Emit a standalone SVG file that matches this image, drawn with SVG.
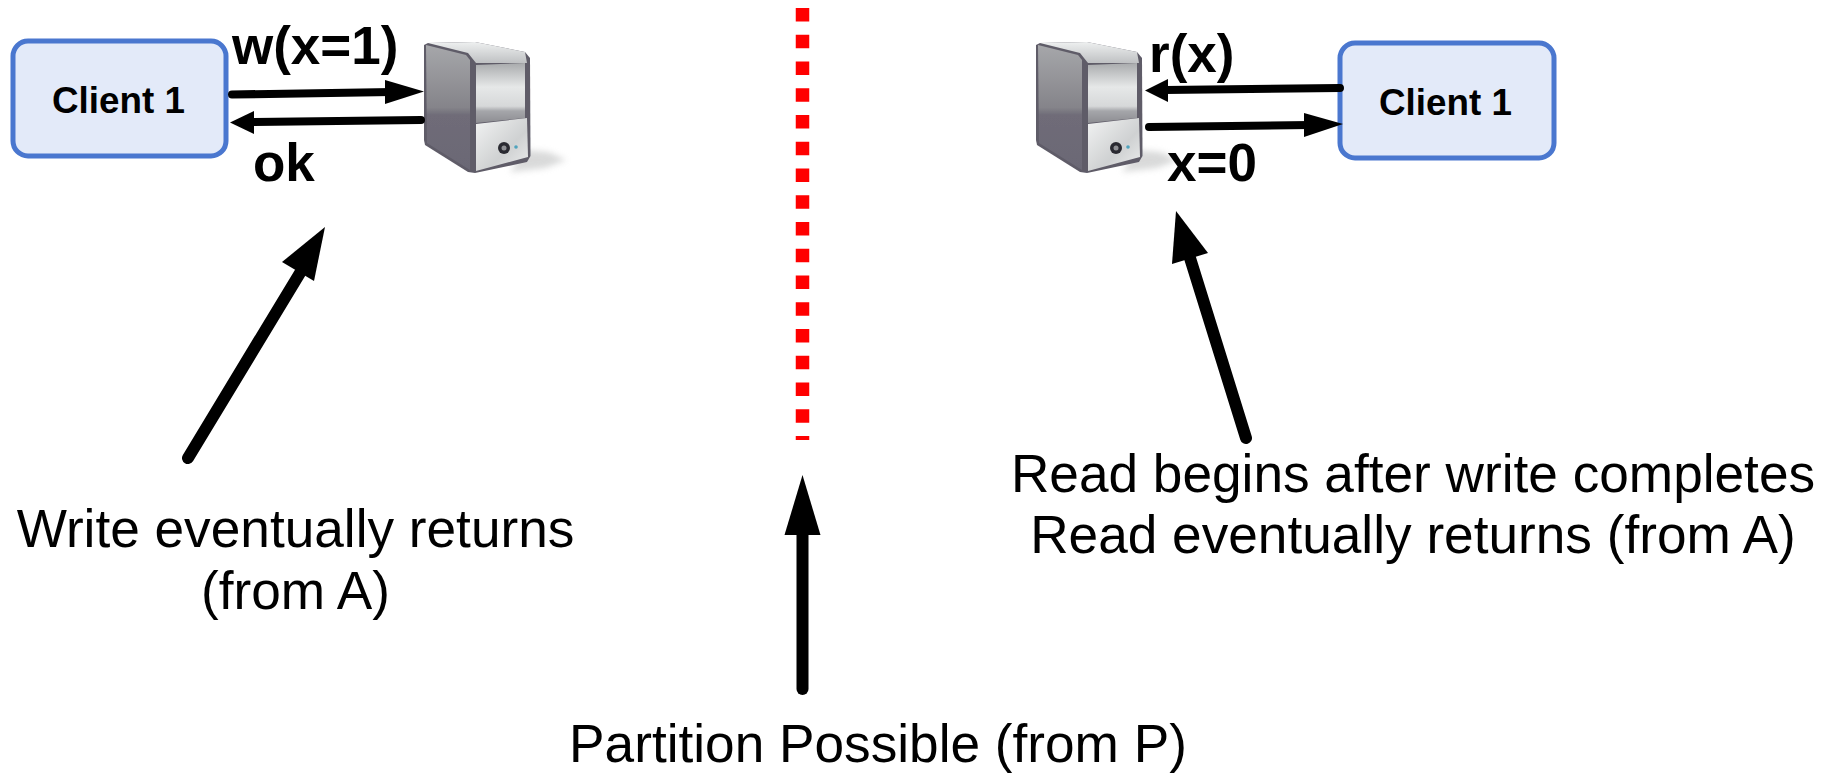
<svg xmlns="http://www.w3.org/2000/svg" width="1823" height="773" viewBox="0 0 1823 773">
<style>
.box{fill:#e3eaf9;stroke:#4a77cf;stroke-width:5}
.bl{font-family:"Liberation Sans",Arial,sans-serif;font-weight:bold;fill:#000}
.cl{font-size:36.8px}
.op{font-size:53px}
.tx{font-family:"Liberation Sans",Arial,sans-serif;font-size:53.200px;fill:#000;text-anchor:middle}
.thin{fill:none;stroke:#000;stroke-width:8;stroke-linecap:round}
.thick{fill:none;stroke:#000;stroke-width:12;stroke-linecap:round}
</style>
<defs>
<filter id="soft" x="-10%" y="-10%" width="120%" height="120%"><feGaussianBlur stdDeviation="0.7"/></filter>
<filter id="shade" x="-30%" y="-50%" width="160%" height="200%"><feGaussianBlur stdDeviation="3"/></filter>
<linearGradient id="side" x1="0" y1="0" x2="0" y2="1"><stop offset="0" stop-color="#a6a7aa"/><stop offset=".5" stop-color="#85848a"/><stop offset=".56" stop-color="#6f6c78"/><stop offset="1" stop-color="#6b6875"/></linearGradient>
<linearGradient id="win" x1="0" y1="0" x2="0" y2="1"><stop offset="0" stop-color="#a9abad"/><stop offset=".4" stop-color="#e6e8e8"/><stop offset=".72" stop-color="#d6d8d9"/><stop offset=".8" stop-color="#a5a6aa"/><stop offset="1" stop-color="#8d8d92"/></linearGradient>
<linearGradient id="low" x1="0" y1="0" x2="1" y2="1"><stop offset="0" stop-color="#f2f3f3"/><stop offset=".6" stop-color="#cfd1d2"/><stop offset="1" stop-color="#eceded"/></linearGradient>
<linearGradient id="top" x1="0" y1="0" x2="0" y2="1"><stop offset="0" stop-color="#eef0f0"/><stop offset="1" stop-color="#bfc1c3"/></linearGradient>
<g id="srv">
<path d="M525 150L548 152L566 160L545 168L510 172Z" fill="#c9caca" opacity=".7" filter="url(#shade)"/>
<g filter="url(#soft)">
<path d="M424 45L428 43L475 42L525 52L530 58L530.500 156L527 162L475 173L468 172L425 145L424 140Z" fill="#5f5c68"/>
<path d="M428 43L475 42L525 52L527 63L476 63L468 53Z" fill="url(#top)"/>
<path d="M426 45L466 55L470 60L470 170L427 143Z" fill="url(#side)"/>
<path d="M476 65L525 63L525 118L476 123Z" fill="url(#win)"/>
<path d="M476 124L527 118L528 157L476 171Z" fill="url(#low)"/>
<circle cx="504" cy="148" r="6" fill="#2c2b31"/><circle cx="504" cy="148" r="2.500" fill="#8f9095"/>
<circle cx="516" cy="147" r="1.800" fill="#4fa3bd"/>
</g>
</g>
</defs>
<g id="server-left"><use href="#srv"/></g>
<g id="server-right"><use href="#srv" x="612"/></g>
<g id="client-left"><rect class="box" x="13" y="41" width="213" height="115" rx="15"/><text class="bl cl" x="52" y="113">Client 1</text></g>
<g id="client-right"><rect class="box" x="1340" y="43" width="214" height="115" rx="15"/><text class="bl cl" x="1379" y="115">Client 1</text></g>
<g id="connectors">
<path d="M802.500 8V440" fill="none" stroke="#f00" stroke-width="13.500" stroke-dasharray="13.500 13.250"/>
<path class="thin" d="M232 94.500L392 92"/><polygon points="424,91.500 385,80 385,104"/>
<path class="thin" d="M421 120L250 122"/><polygon points="230,122.500 254,111 254,134"/>
<path class="thin" d="M1340 88L1165 90"/><polygon points="1145,90.500 1168,79 1168,102"/>
<path class="thin" d="M1149 127L1310 125"/><polygon points="1343,124 1304,113 1304,137"/>
<path class="thick" d="M802.500 689V530"/><polygon points="802.500,475 784.500,535 820.500,535"/>
<path class="thick" d="M188 458L300 273"/><polygon points="325,227 282,262 314,281"/>
<path class="thick" d="M1246 438L1190 258"/><polygon points="1176,211 1172,264 1208,253"/>
</g>
<g id="labels">
<text class="bl op" x="232" y="64">w(x=1)</text>
<text class="bl op" x="253" y="181">ok</text>
<text class="bl op" x="1149" y="72">r(x)</text>
<text class="bl op" x="1167" y="181">x=0</text>
<text class="tx" x="295.500" y="547">Write eventually returns</text>
<text class="tx" x="295.500" y="609">(from A)</text>
<text class="tx" x="1413" y="491.500">Read begins after write completes</text>
<text class="tx" x="1413" y="553">Read eventually returns (from A)</text>
<text class="tx" x="878" y="762">Partition Possible (from P)</text>
</g>
</svg>
